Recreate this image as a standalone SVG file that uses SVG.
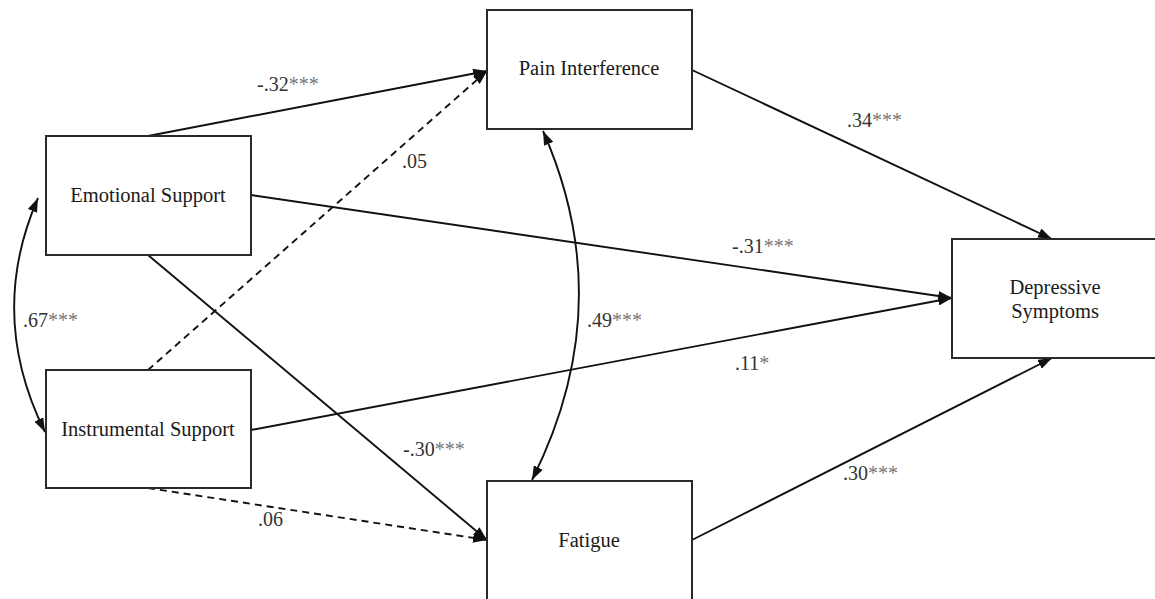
<svg xmlns="http://www.w3.org/2000/svg" width="1155" height="599" viewBox="0 0 1155 599">
<style>
.box{fill:#fff;stroke:#2a2a2a;stroke-width:2}
.nt{font-family:"Liberation Serif","Times New Roman",serif;font-size:20.5px;fill:#1a1a1a;text-anchor:middle}
.lb{font-family:"Liberation Serif","Times New Roman",serif;font-size:20px;fill:#333}
.st{fill:#777}
.ln{fill:none;stroke:#111;stroke-width:1.9}
.d{stroke-dasharray:7 5}
</style>
<defs>
<marker id="ah" viewBox="0 0 14 10" refX="14" refY="5" markerWidth="14" markerHeight="10" markerUnits="userSpaceOnUse" orient="auto-start-reverse">
<path d="M0,0 L14,5 L0,10 z" fill="#111"/>
</marker>
</defs>
<rect width="1155" height="599" fill="#fff"/>
<g id="connectors">
<path class="ln" d="M148 136 L487 71" marker-end="url(#ah)"/>
<path class="ln d" d="M148 370 L487 71" marker-end="url(#ah)"/>
<path class="ln" d="M251 195 L952 298" marker-end="url(#ah)"/>
<path class="ln" d="M251 430 L952 298" marker-end="url(#ah)"/>
<path class="ln" d="M148 255 L487 540" marker-end="url(#ah)"/>
<path class="ln d" d="M148 488 L487 540" marker-end="url(#ah)"/>
<path class="ln" d="M692 70 L1052 239" marker-end="url(#ah)"/>
<path class="ln" d="M692 540 L1052 358" marker-end="url(#ah)"/>
<path class="ln" d="M38 198 Q-13 315 45 432" marker-start="url(#ah)" marker-end="url(#ah)"/>
<path class="ln" d="M543 131 Q620 305 532 480" marker-start="url(#ah)" marker-end="url(#ah)"/>
</g>
<g id="emotional">
<rect class="box" x="46" y="136" width="205" height="119"/>
<text class="nt" x="148" y="202">Emotional Support</text>
</g>
<g id="instrumental">
<rect class="box" x="46" y="370" width="205" height="118"/>
<text class="nt" x="148" y="436">Instrumental Support</text>
</g>
<g id="pain">
<rect class="box" x="487" y="10" width="205" height="119"/>
<text class="nt" x="589" y="75">Pain Interference</text>
</g>
<g id="fatigue">
<rect class="box" x="487" y="481" width="205" height="130"/>
<text class="nt" x="589" y="547">Fatigue</text>
</g>
<g id="depressive">
<rect class="box" x="952" y="239" width="220" height="119"/>
<text class="nt" x="1055" y="294">Depressive</text>
<text class="nt" x="1055" y="318">Symptoms</text>
</g>
<g id="labels">
<text class="lb" x="257" y="91">-.32<tspan class="st">***</tspan></text>
<text class="lb" x="402" y="168">.05</text>
<text class="lb" x="23" y="327">.67<tspan class="st">***</tspan></text>
<text class="lb" x="732" y="253">-.31<tspan class="st">***</tspan></text>
<text class="lb" x="587" y="327">.49<tspan class="st">***</tspan></text>
<text class="lb" x="735" y="370">.11<tspan class="st">*</tspan></text>
<text class="lb" x="847" y="127">.34<tspan class="st">***</tspan></text>
<text class="lb" x="403" y="456">-.30<tspan class="st">***</tspan></text>
<text class="lb" x="258" y="526">.06</text>
<text class="lb" x="843" y="480">.30<tspan class="st">***</tspan></text>
</g>
</svg>
